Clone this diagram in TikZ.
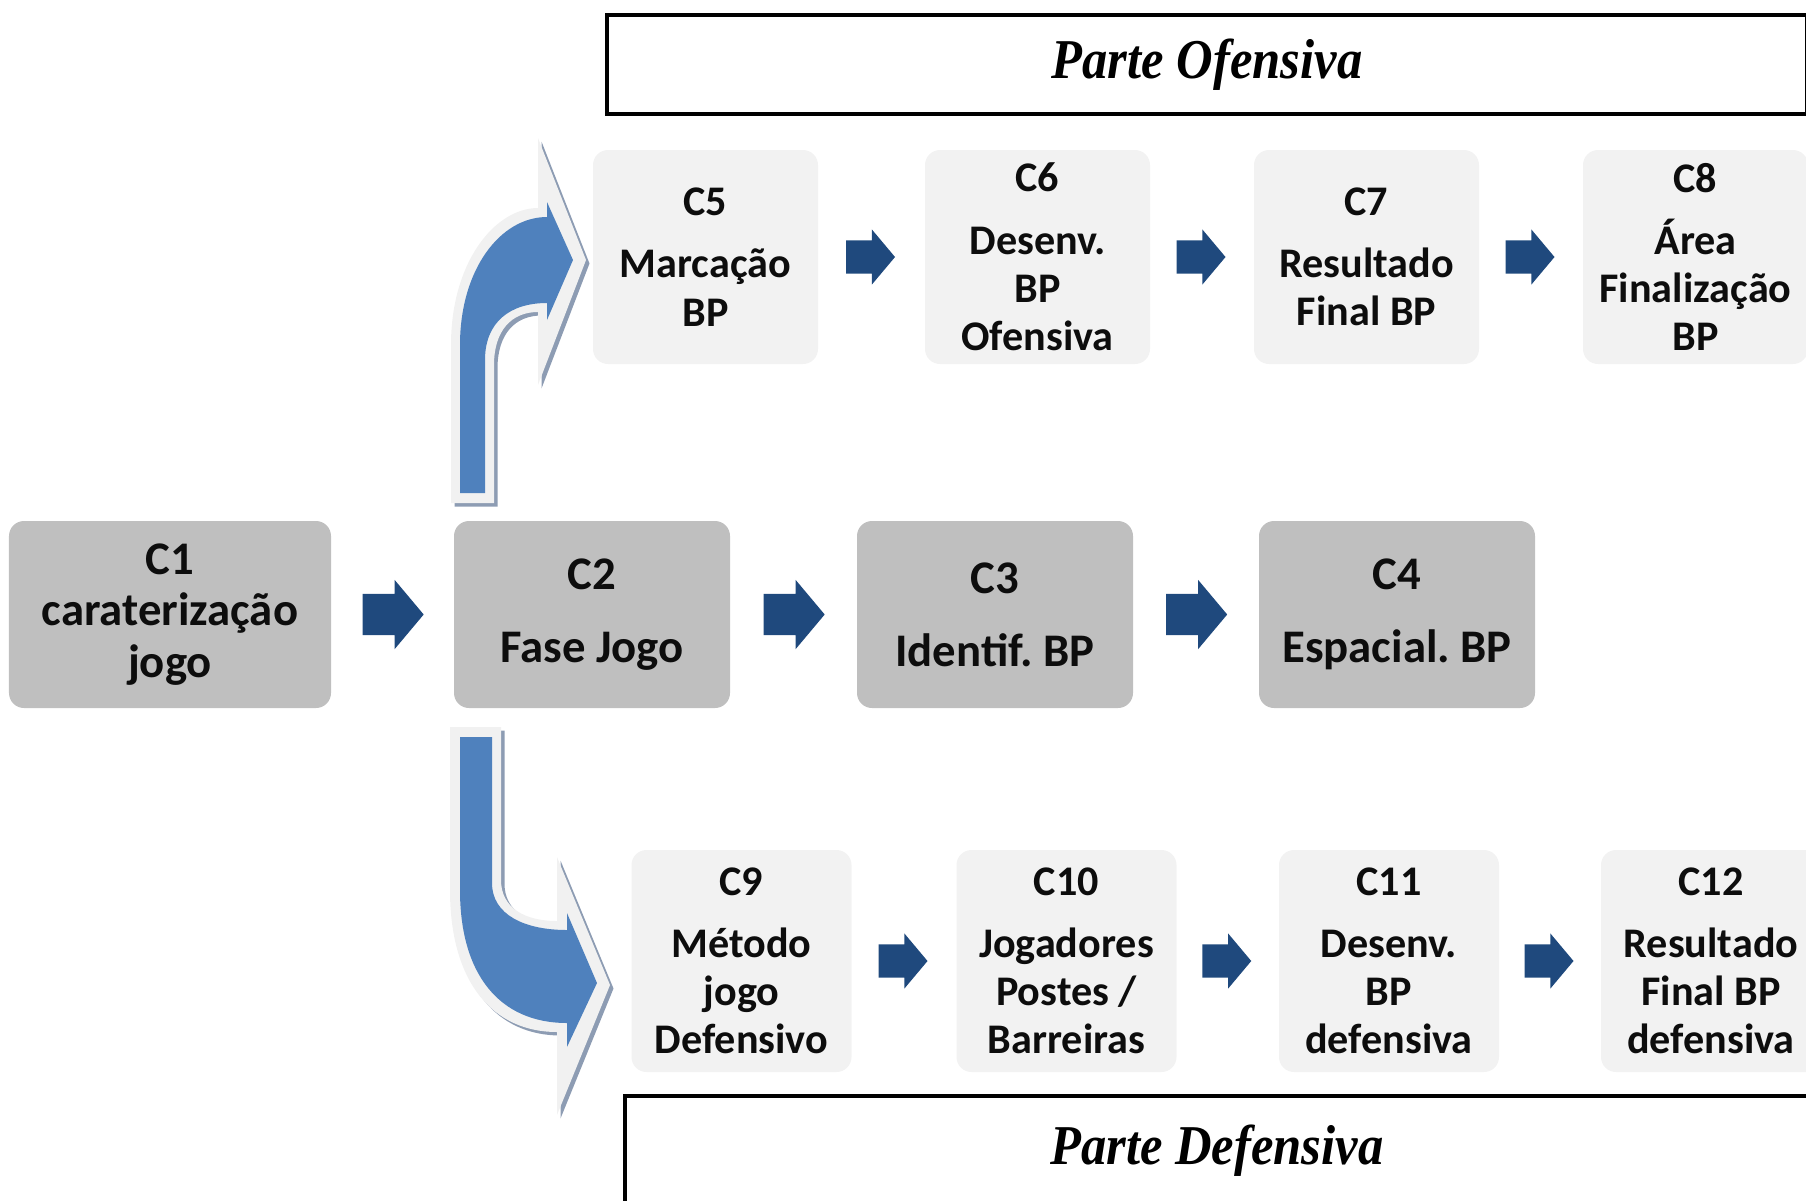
\documentclass[tikz,border=0pt]{standalone}
\usepackage{fontspec}
\setsansfont{Carlito}
\newfontfamily\headserif[FakeStretch=0.9]{Liberation Serif}
\usepackage{tikz}
\usetikzlibrary{shapes.arrows, calc}
\definecolor{Ink}{HTML}{0D0D0D}
\definecolor{MidGray}{HTML}{BFBFBF}
\definecolor{SoftGray}{HTML}{F2F2F2}
\definecolor{Navy}{HTML}{1F497D}
\definecolor{BendBlue}{HTML}{4F81BD}
\definecolor{Rim}{HTML}{F1F1F1}
\definecolor{RimShadow}{HTML}{8D9CB3}

% outlines of the two bent arrows
\newcommand{\rimup}{(4.51,-5.03) -- (4.51,-3.45) .. controls (4.51,-2.62) and (4.95,-2.08) .. (5.38,-2.08) -- (5.38,-1.38) -- (5.86,-2.60) -- (5.38,-3.85) -- (5.38,-3.12) .. controls (5.12,-3.12) and (4.94,-3.30) .. (4.94,-3.65) -- (4.94,-5.03) -- cycle}
\newcommand{\bendup}{(4.60,-4.93) -- (4.60,-3.45) .. controls (4.60,-2.70) and (5.00,-2.17) .. (5.47,-2.17) -- (5.47,-2.02) -- (5.73,-2.60) -- (5.47,-3.20) -- (5.47,-3.03) .. controls (5.10,-3.03) and (4.85,-3.22) .. (4.85,-3.60) -- (4.85,-4.93) -- cycle}
\newcommand{\rimdown}{(4.50,-7.27) -- (4.50,-8.90) .. controls (4.50,-9.85) and (4.95,-10.32) .. (5.57,-10.32) -- (5.57,-11.15) -- (6.10,-9.85) -- (5.57,-8.57) -- (5.57,-9.21) .. controls (5.25,-9.21) and (5.01,-9.08) .. (5.01,-8.80) -- (5.01,-7.27) -- cycle}
\newcommand{\benddown}{(4.60,-7.37) -- (4.60,-8.90) .. controls (4.60,-9.75) and (5.00,-10.23) .. (5.67,-10.23) -- (5.67,-10.47) -- (5.97,-9.83) -- (5.67,-9.13) -- (5.67,-9.30) .. controls (5.25,-9.30) and (4.92,-9.15) .. (4.92,-8.83) -- (4.92,-7.37) -- cycle}

\begin{document}
\frenchspacing
\begin{tikzpicture}[
  font=\sffamily\bfseries,
  midbox/.style={rectangle, rounded corners=0.15cm, fill=MidGray, text=Ink, align=center, inner sep=0pt, minimum width=2.76cm, minimum height=1.87cm, font=\sffamily\bfseries\fontsize{13.3}{14.7}\selectfont},
  sidebox/.style={rectangle, rounded corners=0.15cm, fill=SoftGray, text=Ink, align=center, inner sep=0pt, minimum width=2.25cm, minimum height=2.14cm, font=\sffamily\bfseries\fontsize{12}{13.7}\selectfont},
  navy/.style={single arrow, fill=Navy, inner xsep=0pt, inner ysep=0.16cm, single arrow head extend=0.11cm, single arrow tip angle=100, minimum height=0.49cm, xshift=-0.08cm},
  bignavy/.style={navy, inner ysep=0.2cm, single arrow head extend=0.14cm, minimum height=0.61cm},
  part/.style={draw=black, line width=1pt, inner sep=0pt, font=\headserif\bfseries\itshape\fontsize{16}{19}\selectfont}
]
\useasboundingbox (0,0) rectangle (18.06,-12.00);

% bent arrows out of the game phase
\fill[RimShadow, shift={(0.035,-0.035)}] \rimup;
\fill[Rim] \rimup;
\fill[BendBlue] \bendup;
\fill[RimShadow, shift={(0.035,-0.035)}] \rimdown;
\fill[Rim] \rimdown;
\fill[BendBlue] \benddown;

% main row
\node[midbox, minimum width=3.22cm] (c1) at (1.70,-6.145) {C1\\caraterização\\jogo};
\node[midbox] (c2) at (5.92,-6.145) {C2\\[6pt]Fase Jogo};
\node[midbox] (c3) at (9.95,-6.145) {C3\\[6pt]Identif. BP};
\node[midbox] (c4) at (13.97,-6.145) {C4\\[6pt]Espacial. BP};

% offensive row
\node[sidebox] (c5) at (7.055,-2.57) {C5\\[4pt]Marcação\\BP};
\node[sidebox] (c6) at (10.375,-2.57) {C6\\[4pt]Desenv.\\BP\\Ofensiva};
\node[sidebox] (c7) at (13.665,-2.57) {C7\\[4pt]Resultado\\Final BP};
\node[sidebox] (c8) at (16.955,-2.57) {C8\\[4pt]Área\\Finalização\\BP};

% defensive row
\node[sidebox, minimum width=2.2cm, minimum height=2.22cm] (c9) at (7.415,-9.61) {C9\\[4pt]Método\\jogo\\Defensivo};
\node[sidebox, minimum width=2.2cm, minimum height=2.22cm] (c10) at (10.665,-9.61) {C10\\[4pt]Jogadores\\Postes /\\Barreiras};
\node[sidebox, minimum width=2.2cm, minimum height=2.22cm] (c11) at (13.89,-9.61) {C11\\[4pt]Desenv.\\BP\\defensiva};
\node[sidebox, minimum width=2.2cm, minimum height=2.22cm] (c12) at (17.11,-9.61) {C12\\[4pt]Resultado\\Final BP\\defensiva};

\path (c1) -- node[bignavy] {} (c2);
\path (c2) -- node[bignavy] {} (c3);
\path (c3) -- node[bignavy] {} (c4);
\path (c5) -- node[navy] {} (c6);
\path (c6) -- node[navy] {} (c7);
\path (c7) -- node[navy] {} (c8);
\path (c9) -- node[navy] {} (c10);
\path (c10) -- node[navy] {} (c11);
\path (c11) -- node[navy] {} (c12);

% section headers
\node[part, minimum width=12.0cm, minimum height=0.99cm] (ofensiva) at (12.07,-0.645) {Parte Ofensiva};
\node[part, anchor=north west, minimum width=11.84cm, text height=0.69cm, text depth=0.6cm] (defensiva) at (6.23,-10.94) {Parte Defensiva};
\end{tikzpicture}
\end{document}
